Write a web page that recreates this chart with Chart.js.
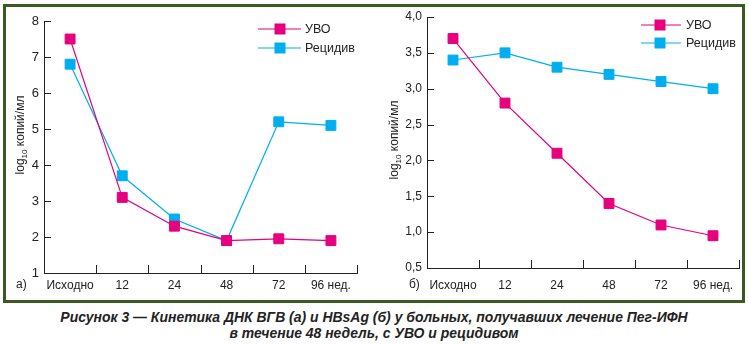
<!DOCTYPE html>
<html>
<head>
<meta charset="utf-8">
<script src="https://cdn.jsdelivr.net/npm/chart.js@4/dist/chart.umd.min.js"></script>
<style>
  body { margin: 0; background: #fff; width: 748px; height: 345px; position: relative; overflow: hidden; }
  #frame { position: absolute; left: 3px; top: 4px; width: 742px; height: 299px; box-sizing: border-box; border: 3px solid #3b5a1f; }
  canvas { position: absolute; top: 0; }
  #left { left: 0; }
  #right { left: 374px; }
  #caption { position: absolute; left: 0; top: 309px; width: 748px; text-align: center;
    font: italic bold 15px "Liberation Sans", Arial, sans-serif;
    line-height: 16px; color: #222; transform: scaleX(0.93); transform-origin: 374px 0; }
</style>
</head>
<body>
<div id="frame"></div>
<canvas id="left" width="374" height="300"></canvas>
<canvas id="right" width="374" height="300"></canvas>
<div id="caption">Рисунок 3 — Кинетика ДНК ВГВ (а) и HBsAg (б) у больных, получавших лечение Пег-ИФН<br>в течение 48 недель, с УВО и рецидивом</div>
<script>
const weeks = ['Исходно', '12', '24', '48', '72', '96 нед.'];
const seriesNames = ['УВО', 'Рецидив'];
const colors = ['#e6007e', '#00aeef'];

// (а) ДНК ВГВ
const dnaSvr = [7.5, 3.1, 2.3, 1.9, 1.95, 1.9];
const dnaRelapse = [6.8, 3.7, 2.5, 1.9, 5.2, 5.1];
// (б) HBsAg
const hbsSvr = [3.7, 2.8, 2.1, 1.4, 1.1, 0.95];
const hbsRelapse = [3.4, 3.5, 3.3, 3.2, 3.1, 3.0];

const FONT = '"Liberation Sans", Arial, sans-serif';
const INK = '#222';

const decor = {
  id: 'decor',
  afterDraw(chart, args, o) {
    const { ctx, chartArea: a, scales: { x, y } } = chart;
    ctx.save();
    ctx.strokeStyle = INK;
    ctx.lineWidth = 1;
    ctx.beginPath();
    y.ticks.forEach((t, i) => {
      const py = Math.round(y.getPixelForTick(i)) + 0.5;
      ctx.moveTo(a.left, py);
      ctx.lineTo(a.left + 7, py);
    });
    const half = (x.getPixelForValue(1) - x.getPixelForValue(0)) / 2;
    weeks.forEach((w, i) => {
      const px = Math.round(x.getPixelForValue(i) + half) + 0.5;
      ctx.moveTo(px, a.bottom);
      ctx.lineTo(px, a.bottom - 8);
    });
    ctx.stroke();

    // legend
    chart.data.datasets.forEach((ds, i) => {
      const ly = o.legendY[i];
      ctx.strokeStyle = ds.borderColor;
      ctx.lineWidth = 1.2;
      ctx.beginPath();
      ctx.moveTo(o.legendX[0], ly);
      ctx.lineTo(o.legendX[2], ly);
      ctx.stroke();
      ctx.fillStyle = ds.borderColor;
      ctx.fillRect(o.legendX[1] - 5.5, ly - 5.5, 11, 11);
      ctx.fillStyle = INK;
      ctx.font = '12.5px ' + FONT;
      ctx.textBaseline = 'middle';
      ctx.textAlign = 'left';
      ctx.fillText(ds.label, o.legendX[3], ly + 1);
    });

    // panel letter
    ctx.font = '12px ' + FONT;
    ctx.fillStyle = INK;
    ctx.fillText(o.letter, o.letterX, 285);

    // y title with subscript
    ctx.translate(o.titleX, o.titleY);
    ctx.rotate(-Math.PI / 2);
    ctx.textBaseline = 'alphabetic';
    ctx.font = '12px ' + FONT;
    const w1 = ctx.measureText('log').width;
    const w3 = ctx.measureText(' копий/мл').width;
    ctx.font = '8px ' + FONT;
    const w2 = ctx.measureText('10').width;
    let sx = -(w1 + w2 + w3) / 2;
    ctx.font = '12px ' + FONT;
    ctx.fillText('log', sx, 4);
    ctx.font = '8px ' + FONT;
    ctx.fillText('10', sx + w1, 7);
    ctx.font = '12px ' + FONT;
    ctx.fillText(' копий/мл', sx + w1 + w2, 4);
    ctx.restore();
  }
};

function makeChart(id, svr, relapse, yOpts, geo) {
  const datasets = [svr, relapse].map((d, i) => ({
    label: seriesNames[i],
    data: d,
    borderColor: colors[i],
    backgroundColor: colors[i],
    borderWidth: 1.2,
    pointStyle: 'rect',
    pointRadius: 7,
    pointBorderWidth: 1,
    pointHoverRadius: 7,
    tension: 0,
  }));
  return new Chart(document.getElementById(id), {
    type: 'line',
    data: { labels: weeks, datasets },
    plugins: [decor],
    options: {
      responsive: false,
      animation: false,
      devicePixelRatio: 1,
      layout: { padding: { left: 0, top: geo.top, right: geo.right, bottom: 0 } },
      plugins: {
        legend: { display: false },
        tooltip: { enabled: false },
        decor: geo.decor,
      },
      scales: {
        x: {
          offset: true,
          grid: { offset: true, display: false, drawTicks: false },
          border: { display: true, color: INK, width: 1 },
          ticks: { color: INK, font: { family: FONT, size: 12 }, padding: geo.xpad, maxRotation: 0, autoSkip: false },
          afterFit: s => { s.height = geo.xh; },
        },
        y: Object.assign({
          grid: { display: false, drawTicks: false },
          border: { display: true, color: INK, width: 1 },
          afterFit: s => { s.width = geo.yw; },
        }, yOpts),
      },
    },
  });
}

makeChart('left', dnaSvr, dnaRelapse, {
  min: 1, max: 8,
  ticks: { stepSize: 1, color: INK, font: { family: FONT, size: 13 }, padding: 5 },
}, {
  top: 21, right: 17, xh: 27, yw: 44, xpad: 5,
  decor: { legendX: [258, 280, 301, 305], legendY: [29, 48], letter: 'а)', letterX: 16, titleX: 20, titleY: 135 },
});

makeChart('right', hbsSvr, hbsRelapse, {
  min: 0.5, max: 4,
  ticks: { stepSize: 0.5, color: INK, font: { family: FONT, size: 12 }, padding: 5,
    callback: v => v.toFixed(1).replace('.', ',') },
}, {
  top: 17, right: 9, xh: 32, yw: 53, xpad: 10,
  decor: { legendX: [267, 286, 307, 312], legendY: [25, 43], letter: 'б)', letterX: 35, titleX: 20, titleY: 140 },
});
</script>
</body>
</html>
